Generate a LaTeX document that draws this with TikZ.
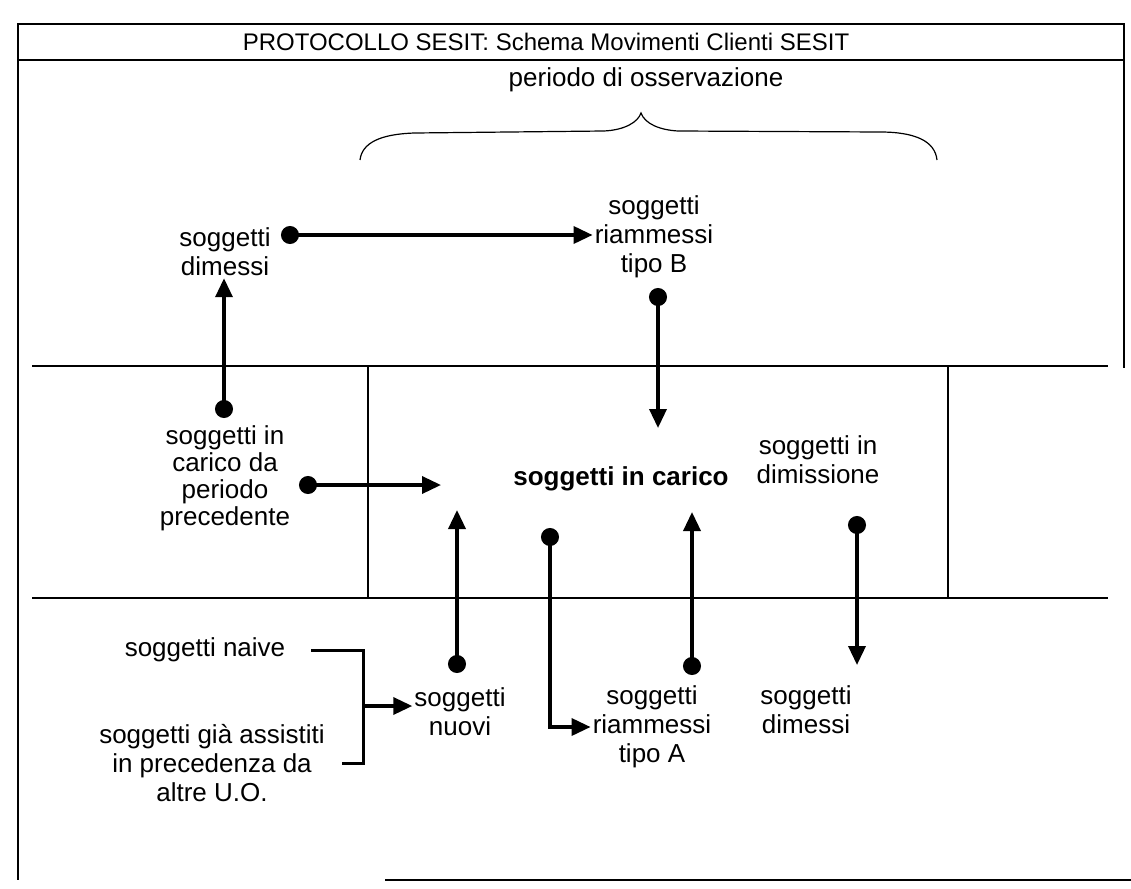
\documentclass[tikz,border=0pt]{standalone}
\usepackage{fontspec}
\setmainfont{Liberation Sans}
\usetikzlibrary{arrows.meta}

\tikzset{
  mov/.style={line width=3.5pt, {Circle[length=18pt]}-{Triangle[length=19pt,width=17pt]}, shorten <=-9pt},
  freccia/.style={line width=3.5pt, -{Triangle[length=19pt,width=17pt]}},
  graffa/.style={line width=3pt},
  bordo/.style={line width=1.3pt},
  txt/.style={align=center, inner sep=2pt, font=\fontsize{26}{29}\selectfont},
}

\begin{document}
\begin{tikzpicture}[x=1pt,y=-1pt]
    \useasboundingbox (0,0) rectangle (1131,888);
    % cornice e fasce
    \draw[bordo] (18,24) rectangle (1124,60);
    \draw[bordo] (18,60) -- (18,880);
    \draw[bordo] (1124,60) -- (1124,368);
    \draw[bordo] (32,366) -- (1108,366);
    \draw[bordo] (32,598) -- (1108,598);
    \draw[bordo] (368,366) -- (368,598);
    \draw[bordo] (948,366) -- (948,598);
    \draw[bordo] (385,880) -- (1131,880);

    \node[txt, font=\fontsize{24}{28}\selectfont] (titolo) at (546,42) {PROTOCOLLO SESIT: Schema Movimenti Clienti SESIT};
    \node[txt] (periodo) at (646,80) {periodo di osservazione};
    % graffa sul periodo
    \draw[line width=1.2pt] (360,160) .. controls (362,143) and (380,134) .. (415,133) -- (604,131)
        .. controls (625,130) and (638,122) .. (641,113)
        .. controls (645,124) and (660,130) .. (678,131) -- (880,132)
        .. controls (915,132) and (935,141) .. (937,160);

    \node[txt] (dimSu) at (225,252) {soggetti\\dimessi};
    \node[txt] (riamB) at (654,237) {soggetti\\riammessi\\tipo B};
    \node[txt, font=\fontsize{26}{27}\selectfont] (carPrec) at (225,478) {soggetti in\\carico da\\periodo\\precedente};
    \node[txt, font=\bfseries\fontsize{26}{29}\selectfont] (carico) at (621,479) {soggetti in carico};
    \node[txt] (dimiss) at (818,460) {soggetti in\\dimissione};
    \node[txt] (naive) at (205,650) {soggetti naive};
    \node[txt] (gia) at (212,763) {soggetti già assistiti\\in precedenza da\\altre U.O.};
    \node[txt] (nuovi) at (460,712) {soggetti\\nuovi};
    \node[txt] (riamA) at (652,727) {soggetti\\riammessi\\tipo A};
    \node[txt] (dimGiu) at (806,710) {soggetti\\dimessi};

    \coordinate (pDimSu) at (290,235);
    \coordinate (pRiamB) at (658,297);
    \coordinate (tRiamB) at (658,428);
    \coordinate (pCarPrec) at (224,409);
    \coordinate (pPrec) at (308,485);
    \coordinate (tPrec) at (441,485);
    \coordinate (pNuovi) at (457,664);
    \coordinate (tNuovi) at (457,510);
    \coordinate (pRiamA) at (550,537);
    \coordinate (pRientro) at (692,666);
    \coordinate (tRientro) at (692,512);
    \coordinate (pDimiss) at (857,525);
    \coordinate (tDimiss) at (857,665);
    \coordinate (bAngolo) at (363,763);
    \coordinate (bFine) at (342,763);
    \coordinate (bMezzo) at (363,706);

    % movimenti
    \draw[mov] (pDimSu) -- (pDimSu -| riamB.west);
    \draw[mov] (pRiamB) -- (tRiamB);
    \draw[mov] (pCarPrec) -- (pCarPrec |- dimSu.south);
    \draw[mov] (pPrec) -- (tPrec);
    \draw[mov] (pNuovi) -- (tNuovi);
    \draw[mov] (pRiamA) |- (riamA.west);
    \draw[mov] (pRientro) -- (tRientro);
    \draw[mov] (pDimiss) -- (tDimiss);

    % naive + gia assistiti -> nuovi
    \draw[graffa] ([xshift=24pt]naive.east) -| (bAngolo) -- (bFine);
    \draw[freccia] (bMezzo) -- (bMezzo -| nuovi.west);
\end{tikzpicture}
\end{document}
